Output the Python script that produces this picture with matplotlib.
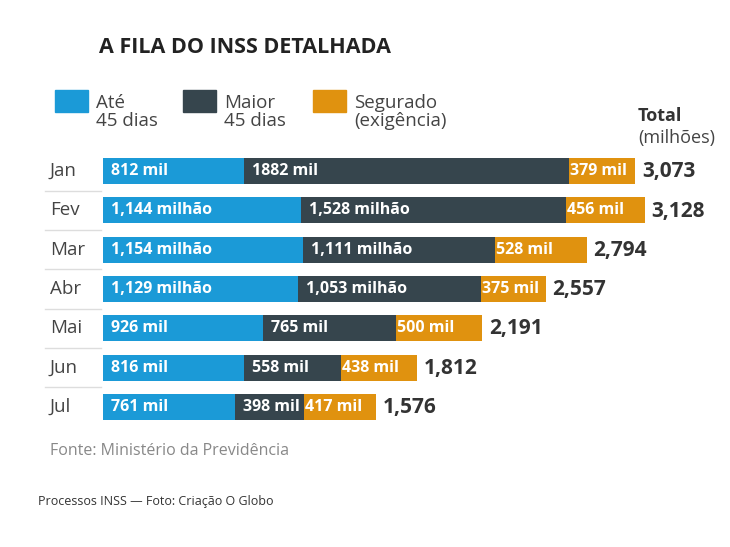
import matplotlib
matplotlib.use("Agg")
import matplotlib.pyplot as plt
from matplotlib.patches import Rectangle

plt.rcParams['font.family'] = ['Open Sans', 'DejaVu Sans']

months = ["Jan", "Fev", "Mar", "Abr", "Mai", "Jun", "Jul"]
ate45 = [812, 1144, 1154, 1129, 926, 816, 761]
maior45 = [1882, 1528, 1111, 1053, 765, 558, 398]
segurado = [379, 456, 528, 375, 500, 438, 417]
ate45_lbl = ["812 mil", "1,144 milhão", "1,154 milhão", "1,129 milhão", "926 mil", "816 mil", "761 mil"]
maior45_lbl = ["1882 mil", "1,528 milhão", "1,111 milhão", "1,053 milhão", "765 mil", "558 mil", "398 mil"]
seg_lbl = ["379 mil", "456 mil", "528 mil", "375 mil", "500 mil", "438 mil", "417 mil"]
totals = ["3,073", "3,128", "2,794", "2,557", "2,191", "1,812", "1,576"]

BLUE, DARK, ORANGE = "#1b9ad7", "#36454d", "#e0920f"
W, H = 730, 547
fig = plt.figure(figsize=(7.3, 5.47), dpi=100)
ax = fig.add_axes([0, 0, 1, 1])
k = 532 / 3073  # px per thousand
x0 = 103
ax.set_xlim(-x0 / k, (W - x0) / k)
y0, dy = 171, 39.3
ax.set_ylim((H - y0) / dy, -y0 / dy)
ax.axis("off")

px = 1 / k
bh = 26 / dy
for i, m in enumerate(months):
    a, b, c = ate45[i], maior45[i], segurado[i]
    ax.barh(i, a, left=0, height=bh, color=BLUE)
    ax.barh(i, b, left=a, height=bh, color=DARK)
    ax.barh(i, c, left=a + b, height=bh, color=ORANGE)
    kw = dict(va="center", ha="left", color="white", fontsize=11.5, fontweight="bold")
    ax.text(8 * px, i, ate45_lbl[i], **kw)
    ax.text(a + 8 * px, i, maior45_lbl[i], **kw)
    ax.text(a + b + 1 * px, i, seg_lbl[i], **kw)
    ax.text(a + b + c + 7 * px, i + 0.02, totals[i], va="center", ha="left",
            color="#333333", fontsize=15, fontweight="bold")
    ax.text(-53 * px, i, m, va="center", ha="left", color="#444444", fontsize=13.5)
    if i < len(months) - 1:
        ax.plot([-58 * px, -2 * px], [i + 0.5, i + 0.5], color="#dddddd", lw=1)

def ft(x, y, s, **kw):
    fig.text(x / W, 1 - y / H, s, **kw)

ft(99, 48, "A FILA DO INSS DETALHADA", fontsize=15.5, fontweight="bold",
   color="#222222", va="center")
for (x, col, lbl) in [(55, BLUE, "Até\n45 dias"), (183, DARK, "Maior\n45 dias"),
                      (313, ORANGE, "Segurado\n(exigência)")]:
    fig.add_artist(Rectangle((x / W, 1 - 112 / H), 33 / W, 22 / H,
                             transform=fig.transFigure, color=col))
    ft(x + 41, 112, lbl, fontsize=13.5, color="#444444", va="center", linespacing=1.05)
ft(638, 116, "Total", fontsize=13, fontweight="bold", color="#333333", va="center")
ft(638, 138, "(milhões)", fontsize=13, color="#444444", va="center")
ft(50, 451, "Fonte: Ministério da Previdência", fontsize=11.5, color="#888888", va="center")
ft(38, 501, "Processos INSS — Foto: Criação O Globo", fontsize=9, color="#333333", va="center")

fig.savefig("out.png", dpi=100)
